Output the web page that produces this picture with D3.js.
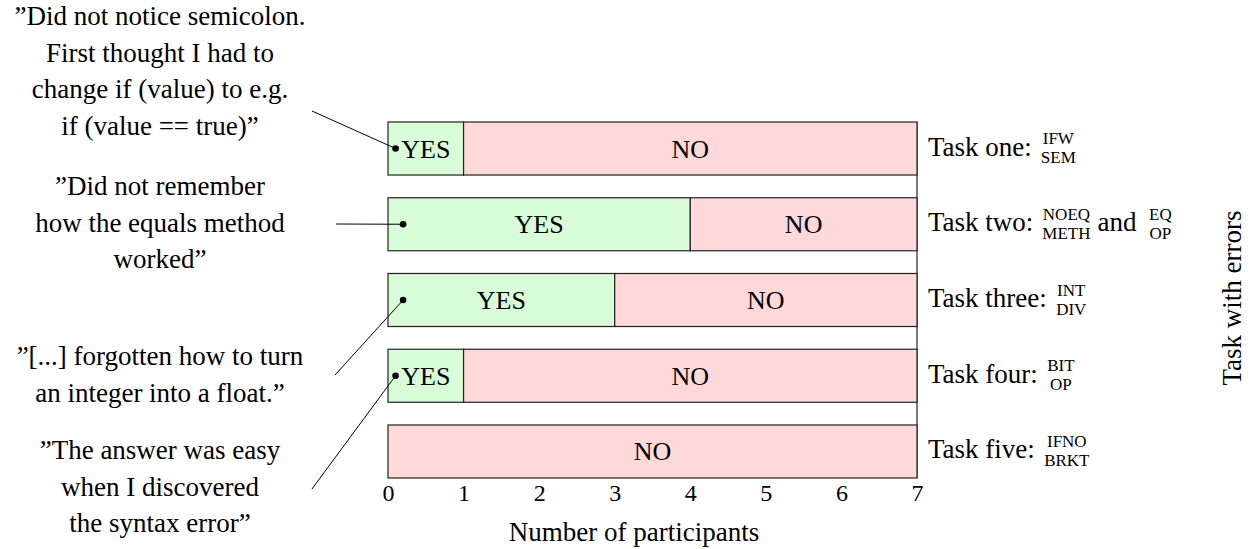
<!DOCTYPE html>
<html>
<head>
<meta charset="utf-8">
<script src="https://cdn.jsdelivr.net/npm/d3@7"></script>
<style>
  body { margin: 0; background: #fff; }
  text { fill: #000; }
</style>
</head>
<body>
<script>
//Data.
var tasks = ["Task one", "Task two", "Task three", "Task four", "Task five"];
var yesCounts = [1, 4, 3, 1, 0];
var noCounts = [6, 3, 4, 6, 7];
var errorCodes = [
  [["IFW", "SEM"]],
  [["NOEQ", "METH"], ["EQ", "OP"]],
  [["INT", "DIV"]],
  [["BIT", "OP"]],
  [["IFNO", "BRKT"]]
];
var xTicks = [0, 1, 2, 3, 4, 5, 6, 7];

//Participant quotes, the task they point at and where the dot sits (in participants).
var quotes = [
  ["\u201dDid not notice semicolon.", "First thought I had to", "change if (value) to e.g.", "if (value == true)\u201d"],
  ["\u201dDid not remember", "how the equals method", "worked\u201d"],
  ["\u201d[...]  forgotten how to turn", "an integer into a float.\u201d"],
  ["\u201dThe answer was easy", "when I discovered", "the syntax error\u201d"]
];
var quoteTasks = ["Task one", "Task two", "Task three", "Task four"];
var quoteDots = [0.1, 0.2, 0.2, 0.1];

//Layout
var width = 1253;
var height = 549;
var font = "Liberation Serif";
var colors = { yes: "#d8fcd8", no: "#ffd9d9" };
var labels = { yes: "YES", no: "NO" };

//quote block: center x, first baseline, start of the pointer line
var quoteLayout = [
  { cx: 160, y: 25, lx: 312, ly: 111 },
  { cx: 160, y: 195, lx: 336, ly: 224 },
  { cx: 160, y: 365, lx: 335, ly: 375 },
  { cx: 160, y: 459, lx: 312, ly: 489 }
];

var svg = d3.select("body").append("svg")
  .attr("width", width)
  .attr("height", height)
  .attr("font-family", font);

var x = d3.scaleLinear().domain([0, 7]).range([388, 917]);
var y = d3.scaleBand().domain(tasks).range([122, 478]).paddingInner(0.3).paddingOuter(0);

//Rows for the stack.
var rows = tasks.map(function (t, i) {
  return { task: t, yes: yesCounts[i], no: noCounts[i] };
});
var series = d3.stack().keys(["yes", "no"])(rows);

//Right axis line.
svg.append("line")
  .attr("x1", x(7)).attr("x2", x(7))
  .attr("y1", y.range()[0]).attr("y2", y.range()[1])
  .attr("stroke", "#222").attr("stroke-width", 1.2);

//Bars
var groups = svg.selectAll("g.series")
  .data(series)
  .enter().append("g")
  .attr("class", "series");

function segments(s) {
  return s.map(function (d) { return { key: s.key, d: d }; })
    .filter(function (o) { return o.d[1] - o.d[0] > 0; });
}

groups.selectAll("rect")
  .data(segments)
  .enter().append("rect")
  .attr("x", function (o) { return x(o.d[0]); })
  .attr("y", function (o) { return y(o.d.data.task); })
  .attr("width", function (o) { return x(o.d[1]) - x(o.d[0]); })
  .attr("height", y.bandwidth())
  .attr("fill", function (o) { return colors[o.key]; })
  .attr("stroke", "#222")
  .attr("stroke-width", 1.2);

groups.selectAll("text")
  .data(segments)
  .enter().append("text")
  .attr("x", function (o) { return (x(o.d[0]) + x(o.d[1])) / 2; })
  .attr("y", function (o) { return y(o.d.data.task) + y.bandwidth() / 2 + 9; })
  .attr("text-anchor", "middle")
  .attr("font-size", 26)
  .text(function (o) { return labels[o.key]; });

//X axis
var xAxis = svg.append("g")
  .attr("transform", "translate(0," + y.range()[1] + ")")
  .call(d3.axisBottom(x).tickValues(xTicks).tickSize(0).tickPadding(6).tickFormat(d3.format("d")));
xAxis.select(".domain").remove();
xAxis.attr("font-family", font).attr("font-size", 24);

svg.append("text")
  .attr("x", 634)
  .attr("y", 541)
  .attr("text-anchor", "middle")
  .attr("font-size", 27)
  .text("Number of participants");

//Task labels on the right with the error codes stacked.
tasks.forEach(function (t, i) {
  var base = y(t) + y.bandwidth() / 2 + 7;
  var cursor = 928;
  var label = svg.append("text")
    .attr("x", cursor).attr("y", base)
    .attr("font-size", 27)
    .text(t + ":");
  cursor += label.node().getBBox().width + 9;

  errorCodes[i].forEach(function (pair, j) {
    if (j > 0) {
      var andText = svg.append("text")
        .attr("x", cursor).attr("y", base)
        .attr("font-size", 27)
        .text("and");
      cursor += andText.node().getBBox().width + 12;
    }
    var g = svg.append("g");
    var top = g.append("text").attr("y", base - 11.5).text(pair[0]);
    var bottom = g.append("text").attr("y", base + 7.5).text(pair[1]);
    g.selectAll("text").attr("font-size", 17).attr("text-anchor", "middle");
    var w = Math.max(top.node().getBBox().width, bottom.node().getBBox().width);
    g.selectAll("text").attr("x", cursor + w / 2);
    cursor += w + 7;
  });
});

//Axis title on the right.
svg.append("text")
  .attr("transform", "translate(1241,298) rotate(-90)")
  .attr("text-anchor", "middle")
  .attr("font-size", 27)
  .text("Task with errors");

//Quotes with pointer lines and dots.
quotes.forEach(function (lines, i) {
  var L = quoteLayout[i];
  var t = svg.append("text")
    .attr("text-anchor", "middle")
    .attr("font-size", 27);
  lines.forEach(function (line, k) {
    t.append("tspan")
      .attr("x", L.cx)
      .attr("y", L.y + k * 36.5)
      .text(line);
  });

  var dx = x(quoteDots[i]);
  var dy = y(quoteTasks[i]) + y.bandwidth() / 2;
  svg.append("line")
    .attr("x1", L.lx).attr("y1", L.ly)
    .attr("x2", dx).attr("y2", dy)
    .attr("stroke", "#000").attr("stroke-width", 1);
  svg.append("circle")
    .attr("cx", dx).attr("cy", dy)
    .attr("r", 3.3)
    .attr("fill", "#000");
});
</script>
</body>
</html>
